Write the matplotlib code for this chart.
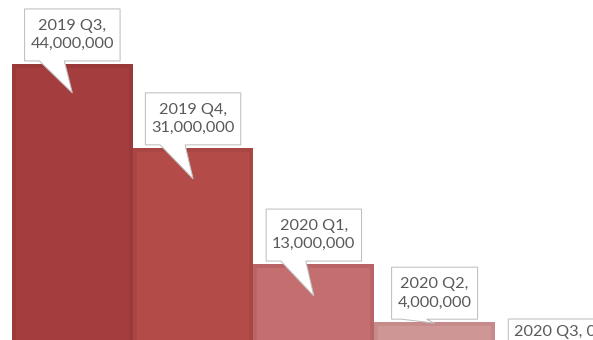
import matplotlib.pyplot as plt
from matplotlib.patches import Polygon
from matplotlib.transforms import IdentityTransform

# data
quarters = ['2019 Q3', '2019 Q4', '2020 Q1', '2020 Q2', '2020 Q3']
values = [44000000, 31000000, 13000000, 4000000, 0]

fill_colors = ['#A43E3E', '#B34B48', '#C56E70', '#CF9696', '#D9A8A8']
edge_colors = ['#9A3939', '#A94543', '#B86466', '#C68A8A', '#D09C9C']
tip_drop = [29, 31, 32, 1, 0]  # px below bar top where the callout points

W, H = 593, 340
fig = plt.figure(figsize=(W / 100, H / 100), dpi=100)
ax = fig.add_axes([0, 0, 1, 1])
ax.set_xlim(-0.599, 4.312)
ax.set_ylim(1.24e6, 53.9e6)
ax.axis('off')

bars = ax.bar(range(len(values)), values, width=1.0, color=fill_colors,
              edgecolor=edge_colors, linewidth=5.5)
for b in bars:
    b.set_clip_path(b)  # keep only the inner half of the edge

fig.canvas.draw()
renderer = fig.canvas.get_renderer()
ident = IdentityTransform()

for i, (q, v) in enumerate(zip(quarters, values)):
    cx, top = ax.transData.transform((i, v))
    label = f'{q},\n{v:,}' if v else f'{q}, {v}'
    nlines = label.count('\n') + 1
    bh = 26 * nlines
    bottom = top + 3
    t = fig.text(cx, bottom + bh / 2, label, transform=ident, ha='center',
                 va='center', fontsize=11.7, family='Lato', color='#595959',
                 linespacing=1.42, zorder=6)
    ext = t.get_window_extent(renderer)
    bw = ext.width + 12
    L, R, B, T = cx - bw / 2, cx + bw / 2, bottom, bottom + bh
    tip = top - tip_drop[i]
    pts = [(L, B), (L, T), (R, T), (R, B), (cx - 8, B), (cx, tip), (cx - 33, B)]
    fig.add_artist(Polygon(pts, closed=True, transform=ident, facecolor='white',
                           edgecolor='#BFBFBF', linewidth=0.75, zorder=5))

fig.savefig('out.png', dpi=100)
